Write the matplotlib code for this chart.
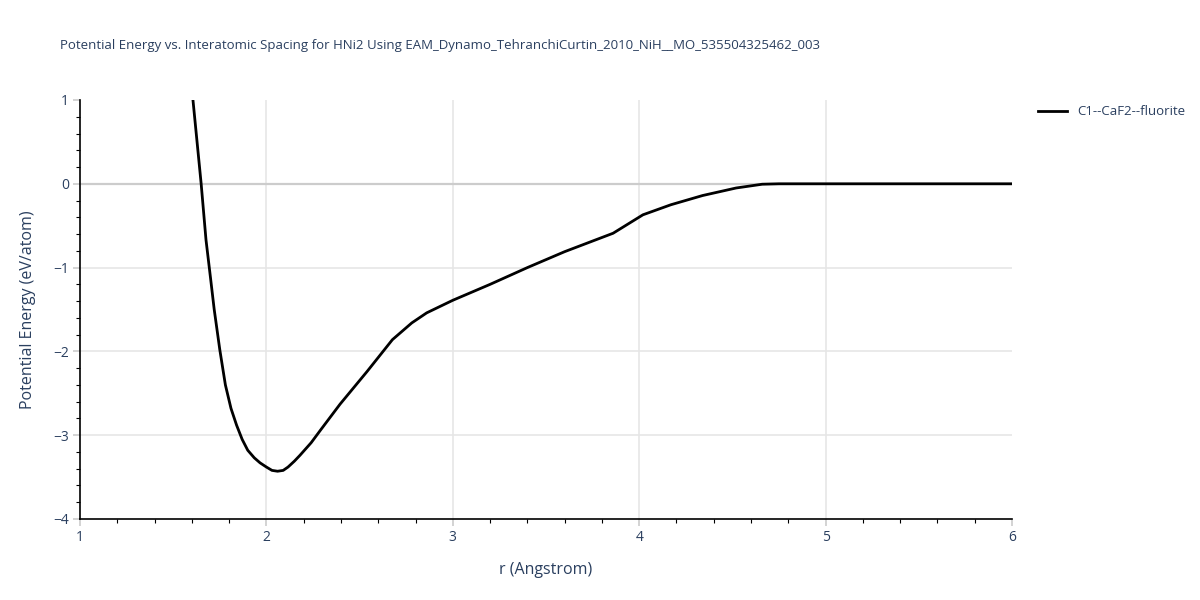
import numpy as np
import matplotlib
matplotlib.use("Agg")
import matplotlib.pyplot as plt
from matplotlib.ticker import MultipleLocator

# Curve
r = [1.606, 1.65, 1.676, 1.70, 1.72, 1.75, 1.78, 1.81, 1.84, 1.87, 1.90,
     1.935, 1.966, 2.00, 2.03, 2.06, 2.09, 2.116, 2.15, 2.18, 2.24, 2.29,
     2.395, 2.54, 2.676, 2.78, 2.86, 3.0, 3.2, 3.4, 3.6, 3.86, 4.02, 4.17,
     4.34, 4.52, 4.66, 4.75, 5.0, 5.5, 6.0]
energy = [1.0, 0.0, -0.67, -1.12, -1.5, -1.98, -2.4, -2.68, -2.88, -3.05, -3.18,
          -3.27, -3.33, -3.38, -3.42, -3.43, -3.42, -3.38, -3.31, -3.24, -3.09, -2.94,
          -2.63, -2.24, -1.86, -1.66, -1.54, -1.39, -1.20, -1.00, -0.81, -0.59, -0.37, -0.25,
          -0.14, -0.05, -0.005, 0.0, 0.0, 0.0, 0.0]

title = "Potential Energy vs. Interatomic Spacing for HNi2 Using EAM_Dynamo_TehranchiCurtin_2010_NiH__MO_535504325462_003"
series_name = "C1--CaF2--fluorite"

text_color = "#2a3f5f"
plt.rcParams["font.family"] = ["Open Sans", "DejaVu Sans"]

fig = plt.figure(figsize=(12, 6), dpi=100)
ax = fig.add_axes([80 / 1200, 1 - 519 / 600, 932 / 1200, 419 / 600])

ax.plot(r, energy, color="black", lw=2, label=series_name, zorder=3)

xlim, ylim = (1, 6), (-4, 1)
ax.set_xlim(xlim)
ax.set_ylim(ylim)
ax.xaxis.set_major_locator(MultipleLocator(1))
ax.xaxis.set_minor_locator(MultipleLocator(0.2))
ax.yaxis.set_major_locator(MultipleLocator(1))
ax.yaxis.set_minor_locator(MultipleLocator(0.2))

# grid lines only inside the plot area (none on the borders)
for x in ax.get_xticks():
    if xlim[0] < x < xlim[1]:
        ax.axvline(x, color="#e6e6e6", lw=1.2, zorder=0)
for y in ax.get_yticks():
    if ylim[0] < y < ylim[1]:
        ax.axhline(y, color="#cccccc" if y == 0 else "#e6e6e6",
                   lw=1.6 if y == 0 else 1.2, zorder=1)

for side in ["top", "right"]:
    ax.spines[side].set_visible(False)
for side in ["left", "bottom"]:
    ax.spines[side].set_color("black")
    ax.spines[side].set_linewidth(1.2)

ax.tick_params(which="major", direction="out", length=5, width=1.2,
               color="#cccccc", labelcolor=text_color, labelsize=10, pad=3)
ax.tick_params(which="minor", direction="out", length=3, width=0.8, color="black")

ax.set_xlabel("r (Angstrom)", color=text_color, fontsize=11.5, labelpad=12)
ax.set_ylabel("Potential Energy (eV/atom)", color=text_color, fontsize=11.5, labelpad=12)

fig.text(60 / 1200, 1 - 46 / 600, title, color=text_color, fontsize=9.5, va="center", ha="left")

leg = ax.legend(loc="upper left", bbox_to_anchor=(1.022, 1.0), frameon=False,
                fontsize=9.5, handlelength=2.2, borderaxespad=0)
for t in leg.get_texts():
    t.set_color(text_color)

fig.savefig("out.png", dpi=100)
